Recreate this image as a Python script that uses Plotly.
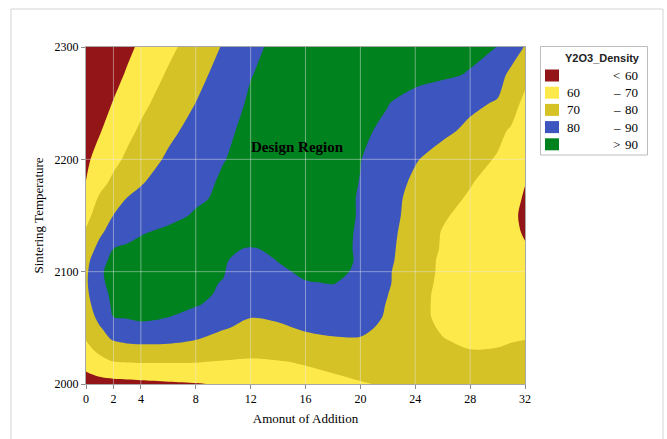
import plotly.graph_objects as go

# Grid of amount of addition (columns) and sintering temperature (rows)
addition = [0, 1, 2, 3, 4, 6, 8, 10, 12, 14, 16, 18, 20, 22, 24, 26, 28, 30, 31, 32]
temperature = [2000, 2010, 2020, 2030, 2040, 2050, 2060, 2070, 2080, 2090, 2100,
               2110, 2120, 2135, 2150, 2165, 2180, 2200, 2225, 2250, 2275, 2300]

# Y2O3 density, one row per temperature
density = [
    [56.0, 56.5, 57.0, 57.4, 57.8, 58.7, 59.5, 60.8, 62.5, 64.2, 65.9, 67.6, 69.3, 71.0, 72.5, 73.5, 74.0, 74.0, 74.0, 74.0],
    [59.6, 62.0, 63.5, 64.0, 64.5, 65.0, 65.4, 65.2, 65.6, 67.0, 68.3, 70.1, 72.0, 73.0, 73.5, 73.5, 73.5, 73.5, 73.5, 73.5],
    [63.3, 67.0, 70.1, 70.5, 70.8, 70.8, 70.5, 69.5, 68.5, 69.5, 71.0, 73.0, 74.5, 74.5, 74.0, 73.5, 73.0, 73.0, 73.0, 73.0],
    [67.2, 72.1, 74.5, 76.0, 76.5, 76.5, 76.0, 75.0, 74.0, 74.5, 75.5, 76.5, 77.0, 75.5, 73.5, 71.8, 70.2, 70.5, 71.0, 71.5],
    [70.5, 76.5, 81.0, 82.5, 83.0, 82.5, 80.3, 78.0, 77.0, 77.5, 78.5, 79.5, 79.6, 76.5, 73.0, 70.3, 68.0, 68.5, 69.5, 69.9],
    [73.5, 79.4, 84.0, 86.0, 88.0, 86.5, 84.0, 80.5, 78.5, 79.0, 80.8, 81.5, 81.5, 78.5, 73.2, 69.0, 66.5, 67.0, 67.5, 68.0],
    [75.5, 82.5, 90.2, 91.0, 91.5, 90.2, 88.0, 84.0, 80.2, 81.0, 82.5, 83.5, 82.5, 79.4, 73.0, 67.8, 65.0, 65.5, 66.0, 67.0],
    [77.0, 84.7, 91.5, 92.5, 92.5, 91.5, 90.3, 88.3, 84.5, 84.5, 85.5, 86.0, 84.5, 79.5, 73.2, 67.5, 64.5, 64.5, 65.0, 66.0],
    [78.2, 86.5, 92.0, 93.0, 93.0, 92.0, 90.8, 89.5, 85.0, 86.0, 88.0, 88.5, 86.5, 80.1, 73.5, 67.5, 64.0, 63.5, 64.0, 65.0],
    [78.8, 88.0, 93.0, 93.5, 93.5, 92.5, 91.0, 89.8, 85.5, 87.5, 89.7, 90.2, 88.5, 80.9, 74.0, 68.0, 64.5, 63.5, 63.5, 63.7],
    [78.5, 88.0, 94.7, 94.5, 94.0, 93.0, 91.5, 90.3, 86.5, 89.0, 91.0, 91.0, 89.3, 81.0, 74.1, 68.5, 65.0, 63.5, 63.0, 62.8],
    [77.5, 86.0, 93.0, 93.5, 94.0, 93.5, 92.0, 90.6, 87.5, 90.2, 91.5, 91.2, 89.6, 81.7, 74.6, 68.5, 65.5, 63.3, 62.5, 61.7],
    [77.0, 81.8, 90.3, 92.0, 93.0, 93.5, 92.5, 91.0, 89.5, 91.0, 92.0, 91.5, 89.4, 82.0, 75.0, 69.2, 66.4, 63.5, 62.1, 60.5],
    [71.0, 79.0, 82.4, 86.0, 89.2, 92.0, 93.5, 94.0, 94.0, 94.0, 93.2, 91.8, 89.4, 82.4, 75.8, 69.5, 66.2, 62.8, 61.2, 59.5],
    [67.5, 74.1, 80.1, 81.8, 83.7, 87.3, 91.0, 93.0, 94.0, 94.2, 93.5, 92.0, 89.6, 82.8, 76.9, 71.1, 66.9, 62.9, 61.0, 59.0],
    [63.8, 71.4, 76.2, 80.3, 82.0, 85.4, 88.7, 91.5, 93.5, 94.3, 94.0, 92.5, 89.5, 82.8, 77.6, 73.3, 68.8, 64.1, 61.8, 59.4],
    [60.1, 66.7, 71.9, 75.6, 79.3, 83.5, 87.4, 91.0, 93.5, 94.5, 94.5, 93.0, 89.8, 83.8, 78.6, 74.7, 70.8, 65.7, 63.0, 60.2],
    [58.5, 63.0, 67.5, 71.6, 75.3, 81.4, 85.6, 89.7, 92.5, 94.5, 95.0, 93.5, 90.2, 86.2, 80.6, 76.7, 73.0, 69.3, 66.0, 62.3],
    [55.4, 59.5, 63.6, 67.7, 71.4, 77.9, 83.2, 88.0, 92.5, 95.0, 95.5, 94.5, 91.5, 88.2, 84.9, 81.6, 78.3, 72.0, 68.9, 65.0],
    [53.0, 56.7, 60.4, 64.1, 67.8, 74.2, 80.1, 85.8, 91.2, 94.0, 95.5, 95.5, 93.5, 90.3, 86.3, 84.0, 81.6, 79.3, 74.0, 67.5],
    [50.5, 54.0, 57.4, 60.9, 64.3, 71.1, 77.2, 83.4, 89.7, 93.0, 94.5, 95.2, 95.3, 94.5, 93.0, 91.3, 89.4, 83.5, 77.7, 73.0],
    [48.6, 51.8, 55.0, 58.2, 61.4, 67.8, 74.2, 80.7, 87.1, 93.0, 94.0, 94.5, 95.0, 95.0, 94.5, 93.5, 92.0, 89.9, 85.0, 79.5],
]

x_ticks = [0, 2, 4, 8, 12, 16, 20, 24, 28, 32]
y_ticks = [2000, 2100, 2200, 2300]
levels = [60, 70, 80, 90]
band_colors = ["#931518", "#FEE94B", "#D4C226", "#3D55BF", "#00821F"]
legend_low = ["", "60", "70", "80", ""]
legend_sign = ["<", "–", "–", "–", ">"]
legend_high = ["60", "70", "80", "90", "90"]

SERIF = "Liberation Serif, Times New Roman, serif"
SANS = "Liberation Sans, Arial, sans-serif"

# page geometry (pixels)
W, H = 667, 439
ML, MR, MT, MB = 86, 142, 47, 55
PW, PH = W - ML - MR, H - MT - MB


def px(xp):
    return (xp - ML) / PW


def py(yp):
    return (H - MB - yp) / PH


# discrete colour scale: one solid colour per band
edges = [0, 0.125, 0.375, 0.625, 0.875, 1]
scale = []
for i, c in enumerate(band_colors):
    scale.append([edges[i], c])
    scale.append([edges[i + 1], c])

fig = go.Figure()
fig.add_trace(go.Contour(
    x=addition, y=temperature, z=density,
    contours=dict(start=levels[0], end=levels[-1], size=levels[1] - levels[0],
                  coloring="fill", showlines=False),
    colorscale=scale, showscale=False,
    line=dict(width=0, smoothing=0.9),
    hoverinfo="skip",
))

shapes = []
# light grid drawn over the filled bands
for xv in x_ticks[1:-1]:
    shapes.append(dict(type="line", xref="x", yref="y", x0=xv, x1=xv,
                       y0=y_ticks[0], y1=y_ticks[-1], layer="above",
                       line=dict(color="rgba(235,235,235,0.45)", width=1)))
for yv in y_ticks[1:-1]:
    shapes.append(dict(type="line", xref="x", yref="y", x0=x_ticks[0], x1=x_ticks[-1],
                       y0=yv, y1=yv, layer="above",
                       line=dict(color="rgba(235,235,235,0.45)", width=1)))

# outer page frame
shapes.append(dict(type="rect", xref="paper", yref="paper",
                   x0=px(11), x1=px(663), y0=py(450), y1=py(9),
                   line=dict(color="#d4d4d4", width=1)))

# legend box and swatches
shapes.append(dict(type="rect", xref="paper", yref="paper",
                   x0=px(540.5), x1=px(647.5), y0=py(155), y1=py(46.5),
                   line=dict(color="#bdbdbd", width=1), fillcolor="white"))


def note(text, xp, yp, anchor, family, size, color="black"):
    return dict(text=text, x=px(xp), y=py(yp), xref="paper", yref="paper",
                xanchor=anchor, yanchor="middle", showarrow=False,
                font=dict(family=family, size=size, color=color))


annotations = [
    dict(text="<b>Design Region</b>", x=15.45, y=2211, xref="x", yref="y",
         xanchor="center", yanchor="middle", showarrow=False,
         font=dict(family=SERIF, size=15, color="black")),
    note("<b>Y2O3_Density</b>", 602, 58, "center", SANS, 11, "#222222"),
]

for i, c in enumerate(band_colors):
    yc = 75.5 + 17.2 * i
    shapes.append(dict(type="rect", xref="paper", yref="paper",
                       x0=px(545), x1=px(559), y0=py(yc + 6), y1=py(yc - 6),
                       line=dict(width=0), fillcolor=c))
    if legend_low[i]:
        annotations.append(note(legend_low[i], 565, yc, "left", SERIF, 13))
    annotations.append(note(legend_sign[i], 611, yc, "left", SERIF, 13))
    annotations.append(note(legend_high[i], 640, yc, "right", SERIF, 13))

fig.update_layout(
    width=W, height=H,
    margin=dict(l=ML, r=MR, t=MT, b=MB, pad=0),
    paper_bgcolor="white", plot_bgcolor="white",
    showlegend=False,
    shapes=shapes,
    annotations=annotations,
    xaxis=dict(
        range=[x_ticks[0], x_ticks[-1]], tickvals=x_ticks, ticktext=[str(v) for v in x_ticks],
        showgrid=False, zeroline=False, showline=True, mirror=True,
        linecolor="#a8a8a8", linewidth=1, ticks="outside", ticklen=4,
        tickcolor="#8c8c8c", tickfont=dict(family=SERIF, size=12, color="black"),
        title=dict(text="Amonut of Addition", standoff=8,
                   font=dict(family=SERIF, size=13, color="black")),
    ),
    yaxis=dict(
        range=[y_ticks[0], y_ticks[-1]], tickvals=y_ticks,
        showgrid=False, zeroline=False, showline=True, mirror=True,
        linecolor="#a8a8a8", linewidth=1, ticks="outside", ticklen=4,
        tickcolor="#8c8c8c", tickfont=dict(family=SERIF, size=12, color="black"),
        title=dict(text="Sintering Temperature", standoff=8,
                   font=dict(family=SERIF, size=13, color="black")),
    ),
)

fig.write_html("out.html")
